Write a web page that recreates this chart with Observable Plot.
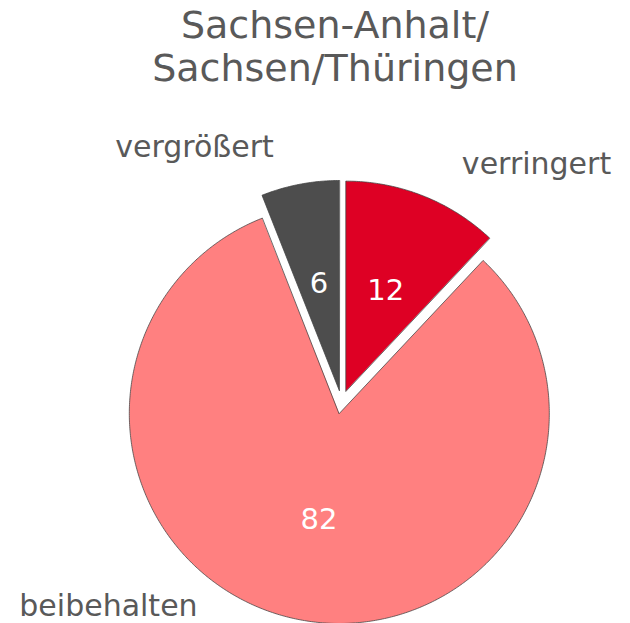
<!DOCTYPE html>
<html><head><meta charset="utf-8">
<script src="https://cdn.jsdelivr.net/npm/d3@7"></script>
<script src="https://cdn.jsdelivr.net/npm/@observablehq/plot@0.6"></script>
<style>
body{margin:0;background:#fff;font-family:"DejaVu Sans",Verdana,sans-serif;}
#title{height:100px;box-sizing:border-box;padding-top:4px;padding-left:40px;width:630px;text-align:center;font-size:38px;line-height:43px;color:#595959;}
#chart svg{display:block;}
</style></head><body>
<div id="title">Sachsen-Anhalt/<br>Sachsen/Thüringen</div>
<div id="chart"></div>
<script>
// Data
const categories = ["verringert", "beibehalten", "vergrößert"];
const values = [12, 82, 6];
const colors = ["#DE0024", "#FF8080", "#4D4D4D"];

// Layout (pixels)
const PX = 210;            // pie radius in px
const EXPLODE = 11.7 / PX; // explosion distance in radius units
const INNER_R = 120 / PX;  // distance of value labels from pie centre
const labelOffsets = [[113.4, -31.6], [-191.5, -13], [-105.5, -37]]; // px offsets of category labels from rim
const W = 630, H = 523, CX = 341, CY = 301.5;

const arcs = d3.pie().sort(null).value(d => d)(values);
const STEP = Math.PI / 360;
const slices = arcs.flatMap((a, i) => {
  const cat = categories[i];
  const mid = (a.startAngle + a.endAngle) / 2;
  const ox = EXPLODE * Math.sin(mid), oy = EXPLODE * Math.cos(mid);
  const n = Math.max(2, Math.ceil((a.endAngle - a.startAngle) / STEP));
  const pts = [{cat, x: ox, y: oy}];
  for (let k = 0; k <= n; k++) {
    const t = a.startAngle + (a.endAngle - a.startAngle) * k / n;
    pts.push({cat, x: ox + Math.sin(t), y: oy + Math.cos(t)});
  }
  return pts;
});
const valueLabels = arcs.map((a, i) => {
  const mid = (a.startAngle + a.endAngle) / 2;
  return {x: INNER_R * Math.sin(mid), y: INNER_R * Math.cos(mid), text: String(values[i])};
});
const catLabels = arcs.map((a, i) => {
  const mid = (a.startAngle + a.endAngle) / 2;
  const r = 1 + EXPLODE;
  return {x: r * Math.sin(mid) + labelOffsets[i][0] / PX, y: r * Math.cos(mid) - labelOffsets[i][1] / PX, text: categories[i]};
});

const chart = Plot.plot({
  width: W, height: H, margin: 0,
  x: {domain: [-CX / PX, (W - CX) / PX], axis: null},
  y: {domain: [-(H - CY) / PX, CY / PX], axis: null},
  color: {domain: categories, range: colors},
  style: {fontFamily: '"DejaVu Sans", Verdana, sans-serif', background: "#fff"},
  marks: [
    Plot.line(slices, {x: "x", y: "y", z: "cat", fill: "cat", stroke: "#404040", strokeWidth: 0.75, strokeLinejoin: "miter", curve: "linear-closed"}),
    Plot.text(valueLabels, {x: "x", y: "y", text: "text", fill: "white", fontSize: 29}),
    Plot.text(catLabels, {x: "x", y: "y", text: "text", fill: "#595959", fontSize: 30})
  ]
});
document.getElementById("chart").appendChild(chart);
</script>
</body></html>
